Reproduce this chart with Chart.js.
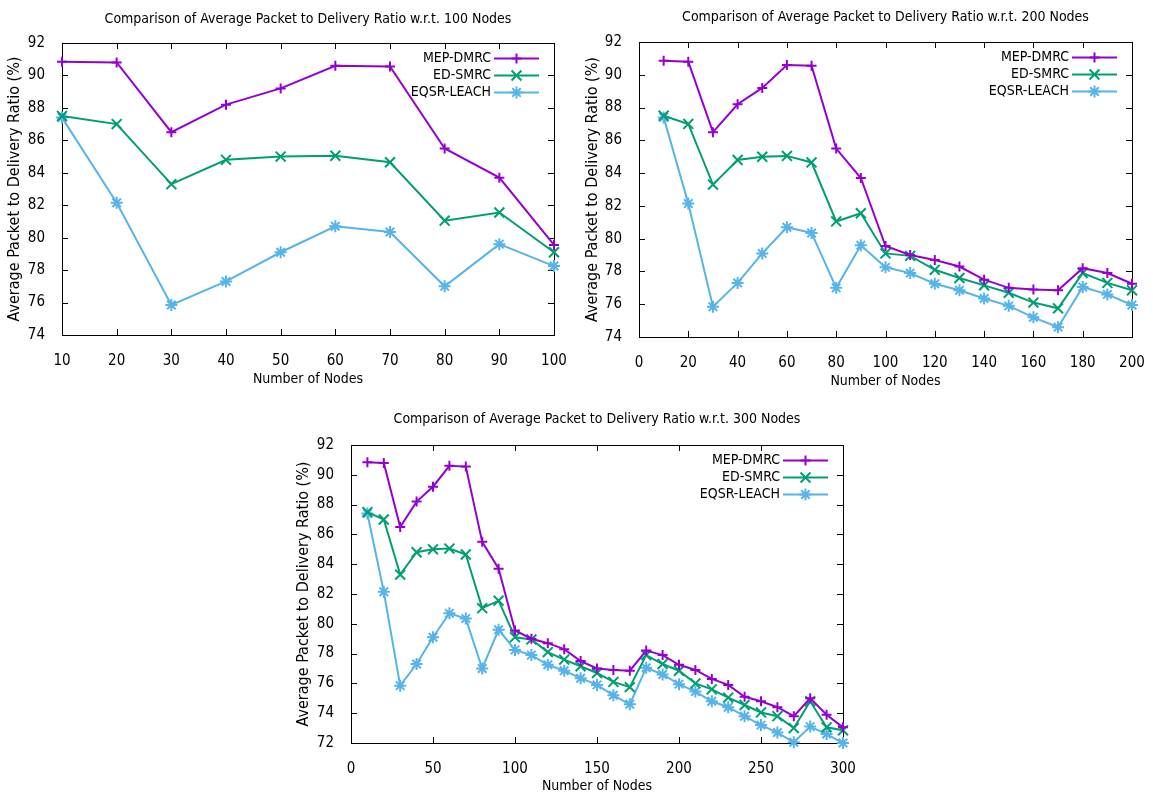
<!DOCTYPE html>
<html>
<head>
<meta charset="utf-8">
<title>Average Packet to Delivery Ratio</title>
<script src="https://cdn.jsdelivr.net/npm/chart.js@4.4.1/dist/chart.umd.min.js"></script>
<style>
  html, body { margin: 0; padding: 0; background: #fff; width: 1153px; height: 800px; overflow: hidden; }
  canvas { position: absolute; }
</style>
</head>
<body>
<canvas id="chart100" width="616" height="400" style="left:0;top:0"></canvas>
<canvas id="chart200" width="611" height="400" style="left:580px;top:0"></canvas>
<canvas id="chart300" width="614" height="400" style="left:290px;top:400px"></canvas>
<script>
// ─── Data ────────────────────────────────────────────────────────────────────
const nodes = [10, 20, 30, 40, 50, 60, 70, 80, 90, 100,
               110, 120, 130, 140, 150, 160, 170, 180, 190, 200,
               210, 220, 230, 240, 250, 260, 270, 280, 290, 300];

const mepDmrc = [90.85, 90.8, 86.5, 88.2, 89.2, 90.6, 90.55, 85.5, 83.7, 79.55,
                 79.0, 78.7, 78.3, 77.5, 77.0, 76.9, 76.85, 78.2, 77.9, 77.25,
                 76.9, 76.3, 75.9, 75.1, 74.8, 74.4, 73.8, 75.0, 73.9, 73.05];

const edSmrc = [87.5, 87.0, 83.3, 84.8, 85.0, 85.05, 84.65, 81.05, 81.55, 79.1,
                78.95, 78.1, 77.6, 77.15, 76.7, 76.1, 75.75, 77.9, 77.3, 76.85,
                76.0, 75.6, 75.05, 74.55, 74.05, 73.8, 73.0, 74.8, 73.05, 72.85];

const eqsrLeach = [87.4, 82.15, 75.85, 77.3, 79.1, 80.7, 80.35, 77.0, 79.6, 78.25,
                   77.9, 77.25, 76.85, 76.35, 75.9, 75.2, 74.6, 77.05, 76.6, 75.95,
                   75.45, 74.8, 74.4, 73.8, 73.2, 72.7, 72.05, 73.1, 72.6, 72.0];

const seriesLabels = ['MEP-DMRC', 'ED-SMRC', 'EQSR-LEACH'];

const FONT = "'DejaVu Sans Condensed', 'DejaVu Sans', sans-serif";

// ─── gnuplot-like frame: border, inward mirrored ticks, title, key ──────────
const gnuFrame = {
    id: 'gnuFrame',
    beforeDatasetsDraw(chart) {
        const { ctx, chartArea: a, scales: { x, y } } = chart;
        ctx.save();
        ctx.strokeStyle = '#000';
        ctx.lineWidth = 1;
        ctx.beginPath();
        x.ticks.forEach(function (t) {
            const px = Math.round(x.getPixelForValue(t.value)) + 0.5;
            ctx.moveTo(px, a.bottom); ctx.lineTo(px, a.bottom - 6);
            ctx.moveTo(px, a.top); ctx.lineTo(px, a.top + 6);
        });
        y.ticks.forEach(function (t) {
            const py = Math.round(y.getPixelForValue(t.value)) + 0.5;
            ctx.moveTo(a.left, py); ctx.lineTo(a.left + 6, py);
            ctx.moveTo(a.right, py); ctx.lineTo(a.right - 6, py);
        });
        ctx.stroke();
        ctx.strokeRect(Math.round(a.left) + 0.5, Math.round(a.top) + 0.5,
                       Math.round(a.right - a.left), Math.round(a.bottom - a.top));
        ctx.restore();
    },
    afterDatasetsDraw(chart, args, opts) {
        const { ctx, chartArea: a } = chart;
        ctx.save();
        // title, centred over the plot
        ctx.fillStyle = '#000';
        ctx.font = '14px ' + FONT;
        ctx.textAlign = 'center';
        ctx.textBaseline = 'middle';
        ctx.fillText(opts.title, (a.left + a.right) / 2, opts.titleY);

        // key (text left of sample, right aligned)
        chart.data.datasets.forEach(function (d, i) {
            const yy = a.top + 15.5 + i * 17;
            ctx.fillStyle = '#000';
            ctx.textAlign = 'right';
            ctx.fillText(d.label, a.right - 63, yy);
            ctx.strokeStyle = d.borderColor;
            ctx.fillStyle = d.borderColor;
            ctx.lineWidth = 2;
            ctx.beginPath();
            ctx.moveTo(a.right - 60, yy);
            ctx.lineTo(a.right - 15, yy);
            ctx.stroke();
            if (Chart.helpers && Chart.helpers.drawPoint) {
                Chart.helpers.drawPoint(ctx, {
                    pointStyle: d.pointStyle, radius: d.pointRadius, borderWidth: 2, rotation: 0
                }, a.right - 37.5, yy);
            }
        });
        ctx.restore();
    }
};

function series(label, values, count, color, style, radius) {
    return {
        label: label,
        data: nodes.slice(0, count).map(function (n, i) { return { x: n, y: values[i] }; }),
        borderColor: color,
        backgroundColor: color,
        borderWidth: 2,
        pointStyle: style,
        pointRadius: radius,
        pointHoverRadius: radius,
        pointBorderWidth: 2,
        pointBorderColor: color,
        tension: 0,
        clip: false
    };
}

function buildChart(id, count, cfg) {
    const tickFont = { family: FONT, size: 15 };
    const xTitleFont = { family: FONT, size: 14 };
    const yTitleFont = { family: FONT, size: 16 };
    new Chart(document.getElementById(id), {
        type: 'line',
        data: {
            datasets: [
                series(seriesLabels[0], mepDmrc, count, '#9400d3', 'cross', 5),
                series(seriesLabels[1], edSmrc, count, '#009e73', 'crossRot', 7),
                series(seriesLabels[2], eqsrLeach, count, '#56b4e9', 'star', 6)
            ]
        },
        options: {
            responsive: false,
            animation: false,
            events: [],
            layout: { padding: { left: 0, right: cfg.padRight, top: cfg.top, bottom: 0 } },
            plugins: {
                legend: { display: false },
                tooltip: { enabled: false },
                gnuFrame: { title: cfg.title, titleY: cfg.titleY }
            },
            scales: {
                x: {
                    type: 'linear',
                    min: cfg.xMin, max: cfg.xMax,
                    ticks: { stepSize: cfg.xStep, color: '#000', font: tickFont, padding: 9, maxRotation: 0, autoSkip: false },
                    grid: { display: false },
                    border: { display: false },
                    title: { display: true, text: 'Number of Nodes', color: '#000', font: xTitleFont, padding: { top: 0, bottom: cfg.xTitlePad } },
                    afterFit: function (s) { s.height = cfg.xHeight; }
                },
                y: {
                    min: cfg.yMin, max: 92,
                    ticks: { stepSize: 2, color: '#000', font: tickFont, padding: 9 },
                    grid: { display: false },
                    border: { display: false },
                    title: { display: true, text: 'Average Packet to Delivery Ratio (%)', color: '#000', font: yTitleFont, padding: { top: cfg.yTitlePad, bottom: 0 } },
                    afterFit: function (s) { s.width = cfg.yWidth; }
                }
            }
        },
        plugins: [gnuFrame]
    });
}

// ─── 100 nodes ───────────────────────────────────────────────────────────────
buildChart('chart100', 10, {
    title: 'Comparison of Average Packet to Delivery Ratio w.r.t. 100 Nodes', titleY: 19,
    xMin: 10, xMax: 100, xStep: 10, yMin: 74,
    top: 43, padRight: 62, yWidth: 62, xHeight: 65, xTitlePad: 12, yTitlePad: 5
});

// ─── 200 nodes ───────────────────────────────────────────────────────────────
buildChart('chart200', 20, {
    title: 'Comparison of Average Packet to Delivery Ratio w.r.t. 200 Nodes', titleY: 17,
    xMin: 0, xMax: 200, xStep: 20, yMin: 74,
    top: 42, padRight: 59, yWidth: 59, xHeight: 63, xTitlePad: 10, yTitlePad: 3
});

// ─── 300 nodes ───────────────────────────────────────────────────────────────
buildChart('chart300', 30, {
    title: 'Comparison of Average Packet to Delivery Ratio w.r.t. 300 Nodes', titleY: 19,
    xMin: 0, xMax: 300, xStep: 50, yMin: 72,
    top: 45, padRight: 61, yWidth: 61, xHeight: 57, xTitlePad: 5, yTitlePad: 4
});
</script>
</body>
</html>
